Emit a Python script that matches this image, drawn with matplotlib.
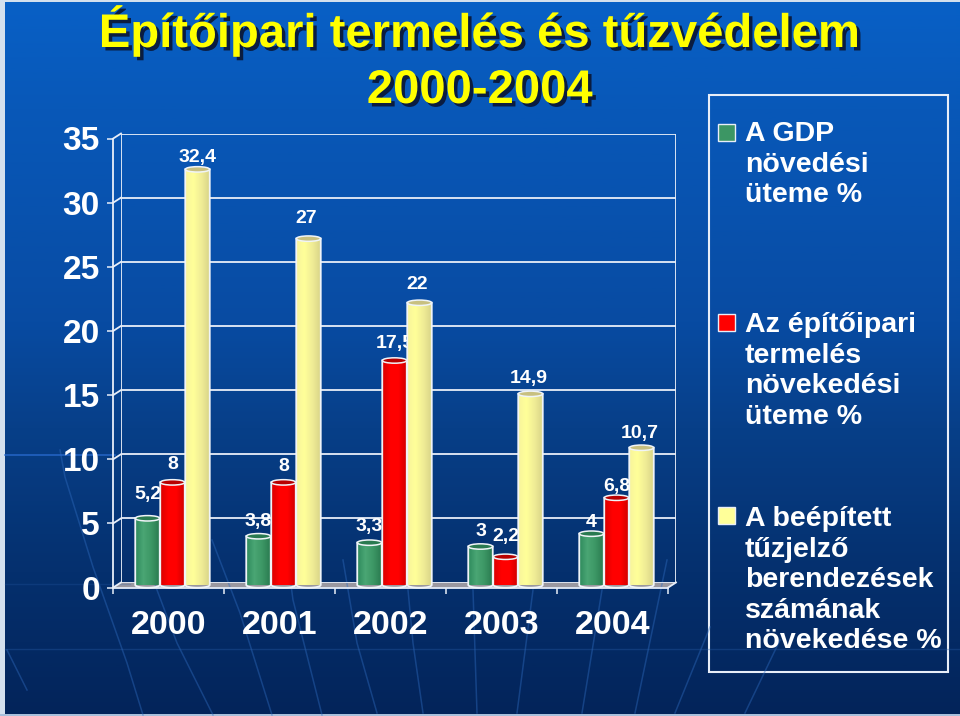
import numpy as np
import matplotlib
matplotlib.use("Agg")
import matplotlib.pyplot as plt
from matplotlib.colors import LinearSegmentedColormap
from matplotlib.patches import Ellipse, Polygon, Rectangle
import matplotlib.patheffects as pe

plt.rcParams['font.family'] = ['Liberation Sans', 'DejaVu Sans']
plt.rcParams['font.weight'] = 'bold'

years = ['2000', '2001', '2002', '2003', '2004']
gdp = [5.2, 3.8, 3.3, 3, 4]
epito = [8, 8, 17.5, 2.2, 6.8]
tuzjelzo = [32.4, 27, 22, 14.9, 10.7]
y_ticks = [0, 5, 10, 15, 20, 25, 30, 35]
title_1 = 'Építőipari termelés és tűzvédelem'
title_2 = '2000-2004'
legend_1 = 'A GDP\nnövedési\nüteme %'
legend_2 = 'Az építőipari\ntermelés\nnövekedési\nüteme %'
legend_3 = 'A beépített\ntűzjelző\nberendezések\nszámának\nnövekedése %'

W, H = 960, 716
fig = plt.figure(figsize=(W / 100, H / 100), dpi=100)


def px_axes(left, right, y0, ytop):
    a = fig.add_axes([left / W, 1 - y0 / H, (right - left) / W, (y0 - ytop) / H])
    a.set_xlim(0, 5)
    a.set_ylim(0, 35)
    a.patch.set_alpha(0)
    return a


# background, in pixels
bg = fig.add_axes([0, 0, 1, 1], zorder=0)
bg.set_xlim(0, W)
bg.set_ylim(H, 0)
bg.axis('off')
bg_cmap = LinearSegmentedColormap.from_list('bg', [(0, '#0860c6'), (0.15, '#0858b8'), (0.3, '#0852ae'),
                                                   (0.45, '#084ba2'), (0.6, '#073f88'), (0.8, '#05306e'),
                                                   (1, '#03245a')])
bg.imshow(np.linspace(0, 1, 300)[:, None], extent=[0, W, H, 0], aspect='auto', cmap=bg_cmap)
streaks = [
    [(60, 450), (65, 477), (93, 567), (127, 663), (143, 715)],
    [(140, 540), (157, 590), (177, 643), (213, 715)],
    [(212, 540), (240, 613), (272, 715)],
    [(285, 540), (293, 600), (322, 715)],
    [(7, 650), (27, 690)],
    [(343, 560), (357, 643), (377, 713)],
    [(408, 590), (413, 643), (423, 713)],
    [(473, 590), (477, 713)],
    [(533, 590), (517, 713)],
    [(602, 590), (582, 713)],
    [(667, 560), (635, 713)],
    [(710, 627), (675, 713)],
    [(780, 640), (745, 713)],
]
for pts in streaks:
    xs_s, ys_s = zip(*pts)
    bg.plot(xs_s, ys_s, color='#2f6cc0', lw=1.1, alpha=0.42)
bg.plot([5, 115], [455, 455], color='#2a6cd0', lw=1.2, alpha=0.8)
bg.plot([5, W], [649, 649], color='#2a5fa8', lw=1, alpha=0.35)
bg.plot([5, 130], [584, 584], color='#2a5fa8', lw=1, alpha=0.25)
# thin pale frame at the left, top and bottom edge
bg.add_patch(Rectangle((0, 0), 4.5, H, fc='#d4e0ee', ec='none'))
bg.add_patch(Rectangle((0, 0), W, 1.5, fc='#d4e0ee', ec='none'))
bg.add_patch(Rectangle((0, 714), W, 2, fc='#a8c0dc', ec='none'))

# titles
for txt, y in [(title_1, 31.5), (title_2, 91)]:
    bg.text(480, y, txt, ha='center', va='center', fontsize=34, color='#ffff00',
            path_effects=[pe.withSimplePatchShadow(offset=(2.5, -2.5), shadow_rgbFace='#0a1c40', alpha=1)])

# floor of the chart
bg.add_patch(Polygon([(113, 587.5), (121, 582.5), (676, 582.5), (668, 587.5)], fc='#9a98a0', ec='none'))

# legend box
bg.add_patch(Rectangle((709, 95), 239, 577, fc='none', ec='#e8eef8', lw=1.5))
for txt, col, y_sq, y_txt in [(legend_1, '#3c9664', 132.5, 121), (legend_2, '#ff0000', 322, 312),
                              (legend_3, '#ffff99', 515, 506)]:
    bg.add_patch(Rectangle((718, y_sq - 8.5), 17, 17, fc=col, ec='#e8eef8', lw=1))
    bg.text(745, y_txt, txt, ha='left', va='top', fontsize=20.5, color='white', linespacing=1.23)

# back walls
back = px_axes(121, 676, 582.5, 133.5)
back.set_zorder(1)
back.axis('off')
back.hlines(y_ticks, 0, 5, color='#e8eef8', lw=1.3)
back.vlines(0, 0, 35, color='#e8eef8', lw=1.3)
back.vlines(5, 0, 35, color='#e8eef8', lw=1.3)
for t in y_ticks:
    back.plot([-8 / 111, 0], [t - 0.4, t], color='#e8eef8', lw=1.3, clip_on=False)
back.plot([5 - 8 / 111, 5], [-0.4, 0], color='#e8eef8', lw=1.3, clip_on=False)

# front axis with the tick labels
front = px_axes(113, 668, 587.5, 138.5)
front.set_zorder(2)
for s in ['top', 'right']:
    front.spines[s].set_visible(False)
for s in ['left', 'bottom']:
    front.spines[s].set_color('#e8eef8')
    front.spines[s].set_linewidth(1.3)
front.set_yticks(y_ticks)
front.set_yticklabels([str(t) for t in y_ticks], fontsize=24, color='white')
front.tick_params(axis='y', length=4.5, width=1.1, color='#e8eef8', pad=5)
front.set_xticks(range(6))
front.set_xticklabels([])
front.tick_params(axis='x', which='major', length=4.5, width=1.1, color='#e8eef8')
front.set_xticks(np.arange(5) + 0.5, minor=True)
front.set_xticklabels(years, minor=True, fontsize=24.5, color='white')
front.tick_params(axis='x', which='minor', length=0, pad=16)

# bars
ax = px_axes(117, 672, 585, 136)
ax.set_zorder(3)
ax.axis('off')

bar_w = 24.5 / 111
e_h = 2.7 / 12.83
series = [
    (gdp, -25 / 111, ['#2e8a5c', '#4aa674', '#3c9664', '#2a7a50'], '#2a7a50', '#3c9664'),
    (epito, 0, ['#d80000', '#ff0000', '#ff0000', '#d00000'], '#b80000', '#ff0000'),
    (tuzjelzo, 25 / 111, ['#f8f49c', '#ffff99', '#f0ec96', '#d8d488'], '#c8c080', '#ffff99'),
]
for vals, off, stops, top_col, mid in series:
    cm = LinearSegmentedColormap.from_list('c', stops)
    xs = np.arange(5) + 0.5 + off
    bars = ax.bar(xs, vals, bar_w, color=mid, edgecolor='none', zorder=4)
    for b, v in zip(bars, vals):
        x0 = b.get_x()
        t = np.linspace(-1, 1, 40)
        px = np.r_[x0, x0 + (t + 1) * bar_w / 2, x0 + bar_w]
        py = np.r_[v, -e_h * np.sqrt(1 - t ** 2), v]
        body = Polygon(np.c_[px, py], closed=True, fc='none', ec='#f0f4f8', lw=1.3, zorder=6)
        ax.add_patch(body)
        im = ax.imshow(np.linspace(0, 1, 40)[None, :], extent=[x0, x0 + bar_w, -e_h, v], aspect='auto',
                       cmap=cm, zorder=5)
        im.set_clip_path(body)
        body.set_clip_on(False)
        ax.add_patch(Ellipse((x0 + bar_w / 2, v), bar_w, 2 * e_h, fc=top_col, ec='#f0f4f8', lw=1.1, zorder=7))
ax.set_xlim(0, 5)
ax.set_ylim(0, 35)

# value labels sit behind the bars
gdp_dy = [23.5, 14.5, 16.5, 15.5, 11.5]
epito_dy = [17.5, 15.5, 17.5, 20.5, 11.5]
tuz_dy = [12, 20, 18, 15, 14]
for (vals, off, *_), dys in zip(series, [gdp_dy, epito_dy, tuz_dy]):
    for i, (v, dy) in enumerate(zip(vals, dys)):
        dx = 0 if off < 0.2 or i == 0 else -1.5
        ax.annotate(f'{v:g}'.replace('.', ','), (i + 0.5 + off, v), xytext=(dx, dy * 0.72),
                    textcoords='offset points', ha='center', va='center', fontsize=14,
                    color='white', zorder=3, annotation_clip=False)

fig.savefig('out.png', dpi=100)
